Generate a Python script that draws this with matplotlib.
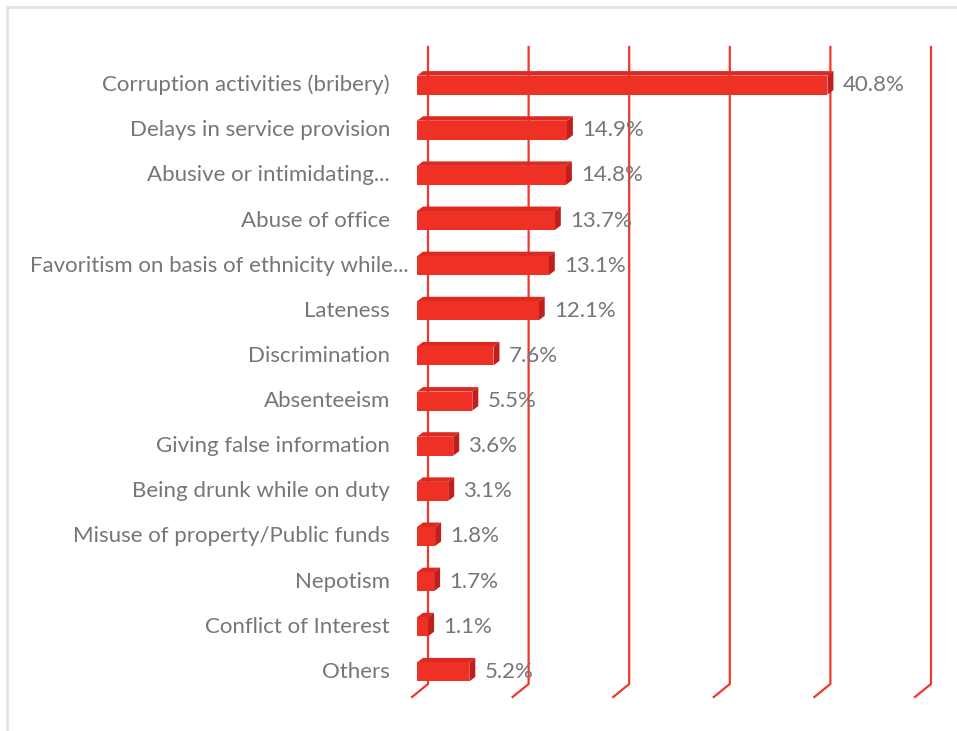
import numpy as np
import matplotlib.pyplot as plt
from matplotlib.patches import Polygon, Rectangle

categories = [
    'Corruption activities (bribery)',
    'Delays in service provision',
    'Abusive or intimidating...',
    'Abuse of office',
    'Favoritism on basis of ethnicity while...',
    'Lateness',
    'Discrimination',
    'Absenteeism',
    'Giving false information',
    'Being drunk while on duty',
    'Misuse of property/Public funds',
    'Nepotism',
    'Conflict of Interest',
    'Others',
]
values = [40.8, 14.9, 14.8, 13.7, 13.1, 12.1, 7.6, 5.5, 3.6, 3.1, 1.8, 1.7, 1.1, 5.2]
ticks = [0, 10, 20, 30, 40, 50]

bar_face = '#ee3124'
bar_top = '#dc2a22'
bar_side = '#c11f1c'
grid_col = '#f0372b'
text_col = '#767676'

W, H = 957, 731
fig = plt.figure(figsize=(W / 100, H / 100), dpi=100)
fig.patch.set_facecolor('white')

# plot area in pixels (front plane)
left_px, right_px = 417, 920
top_px, bottom_px = 47, 697
ax = fig.add_axes([left_px / W, 1 - bottom_px / H,
                   (right_px - left_px) / W, (bottom_px - top_px) / H])
n = len(categories)
ytop, ybot = -0.8, 13.6
ax.set_xlim(0, 50)
ax.set_ylim(ybot, ytop)
ax.axis('off')

# pixel -> data unit factors
px_x = 50 / (right_px - left_px)
px_y = (ybot - ytop) / (bottom_px - top_px)

# gridlines on the back wall with a short floor segment to the front
back_dx = 11 * px_x
floor_y = ybot - 13 * px_y
for t in ticks:
    xb = t + back_dx
    ax.plot([xb, xb, t - 5 * px_x], [ytop, floor_y, ybot],
            color=grid_col, lw=1.6, clip_on=False, zorder=1,
            solid_joinstyle='miter')

# 3D-looking bars: front face, top face, right side face
h = 19 * px_y
ddx = 6 * px_x
ddy = 4.5 * px_y
labels = []
for i, v in enumerate(values):
    y0 = i - h / 2 + 2 * px_y
    y1 = y0 + h
    top = Polygon([(0, y0), (v, y0), (v + ddx, y0 - ddy), (ddx, y0 - ddy)],
                  closed=True, facecolor=bar_top, edgecolor='none', zorder=3)
    side = Polygon([(v, y0), (v + ddx, y0 - ddy), (v + ddx, y1 - ddy), (v, y1)],
                   closed=True, facecolor=bar_side, edgecolor='none', zorder=3)
    front = Rectangle((0, y0), v, h, facecolor=bar_face, edgecolor='none', zorder=4)
    for p in (top, side, front):
        p.set_clip_on(False)
        ax.add_patch(p)
    ax.text(v + ddx + 9 * px_x, i + 2 * px_y, f'{v}%', va='center', ha='left',
            fontsize=16, color=text_col, family='Lato', zorder=5)
    labels.append(ax.text(-27 * px_x, i + 2 * px_y, categories[i], va='center',
                          ha='right', fontsize=16, color=text_col, family='Lato',
                          zorder=5))

# long category labels start at a fixed left margin instead
fig.canvas.draw()
min_left = 30
for t in labels:
    bb = t.get_window_extent()
    if bb.x0 < min_left:
        t.set_ha('left')
        t.set_x(ax.transData.inverted().transform((min_left, 0))[0])

# light frame lines along the top and left edges
fig.add_artist(plt.Line2D([7 / W, 7 / W], [0, 1 - 7 / H], color='#e3e3e3', lw=2,
                          transform=fig.transFigure))
fig.add_artist(plt.Line2D([7 / W, 1], [1 - 7 / H, 1 - 7 / H], color='#e3e3e3', lw=2,
                          transform=fig.transFigure))

fig.savefig('out.png', dpi=100)
